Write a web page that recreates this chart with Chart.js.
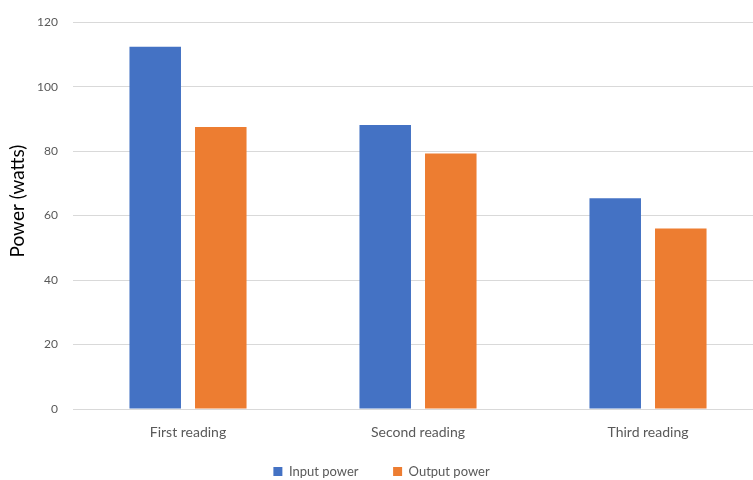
<!DOCTYPE html>
<html>
<head>
<meta charset="utf-8">
<script src="https://cdn.jsdelivr.net/npm/chart.js@4"></script>
<style>
  html, body { margin: 0; padding: 0; background: #ffffff; overflow: hidden; }
  #wrap { width: 753px; height: 480px; overflow: hidden; position: relative; }
  canvas { position: absolute; left: 0; top: 0; }
</style>
</head>
<body>
<div id="wrap"><canvas id="chart" width="763" height="488"></canvas></div>
<script>
const categories = ['First reading', 'Second reading', 'Third reading'];
const inputPower = [112.4, 88.1, 65.4];
const outputPower = [87.5, 79.3, 56.0];
const yTicks = [0, 20, 40, 60, 80, 100, 120];

const FONT = 'Lato, "Open Sans", sans-serif';
const TEXT = '#595959';
const LEGEND_PAD = 8;
const LEGEND_GAP = 35;      // horizontal space between legend entries
const PLOT_BOTTOM = 409;
const CANVAS_H = 488;
const TITLE_LIFT = 6;       // leading spaces that raise the rotated axis title

new Chart(document.getElementById('chart'), {
  type: 'bar',
  data: {
    labels: categories,
    datasets: [
      { label: 'Input power', data: inputPower, backgroundColor: '#4472C4', borderWidth: 0,
        categoryPercentage: 0.57, barPercentage: 0.786 },
      { label: 'Output power', data: outputPower, backgroundColor: '#ED7D31', borderWidth: 0,
        categoryPercentage: 0.57, barPercentage: 0.786 }
    ]
  },
  options: {
    responsive: false,
    animation: false,
    layout: { padding: { top: 19, right: 0, bottom: 0, left: 0 } },
    plugins: {
      tooltip: { enabled: false },
      legend: {
        position: 'bottom',
        labels: {
          boxWidth: 9,
          boxHeight: 9,
          padding: LEGEND_PAD,
          color: TEXT,
          font: { family: FONT, size: 13 },
          generateLabels(chart) {
            const items = Chart.defaults.plugins.legend.labels.generateLabels(chart);
            const ctx = chart.ctx;
            ctx.save();
            ctx.font = '13px ' + FONT;
            const sp = ctx.measureText(' ').width || 3;
            ctx.restore();
            const n = Math.max(0, Math.round((LEGEND_GAP - LEGEND_PAD) / sp));
            items.forEach((it, i) => {
              if (i < items.length - 1) it.text = it.text + ' '.repeat(n);
            });
            return items;
          }
        }
      }
    },
    scales: {
      x: {
        grid: { display: false },
        border: { display: false },
        ticks: { color: TEXT, padding: 7, font: { family: FONT, size: 14 } },
        afterFit(scale) {
          // legend height = itemHeight + padding + 10
          scale.height = CANVAS_H - (13 + LEGEND_PAD + 10) - PLOT_BOTTOM;
        }
      },
      y: {
        min: 0,
        max: 120,
        afterBuildTicks(scale) {
          scale.ticks = yTicks.map(v => ({ value: v }));
        },
        grid: { color: '#D9D9D9', lineWidth: 1, drawTicks: false },
        border: { display: false },
        ticks: { color: TEXT, padding: 15, font: { family: FONT, size: 12 } },
        title: {
          display: true,
          text: ' '.repeat(TITLE_LIFT) + 'Power (watts)',
          color: '#000000',
          padding: { top: 6, bottom: 0 },
          font: { family: FONT, size: 19 }
        },
        afterFit(scale) {
          scale.width = 73;
        }
      }
    }
  }
});
</script>
</body>
</html>
